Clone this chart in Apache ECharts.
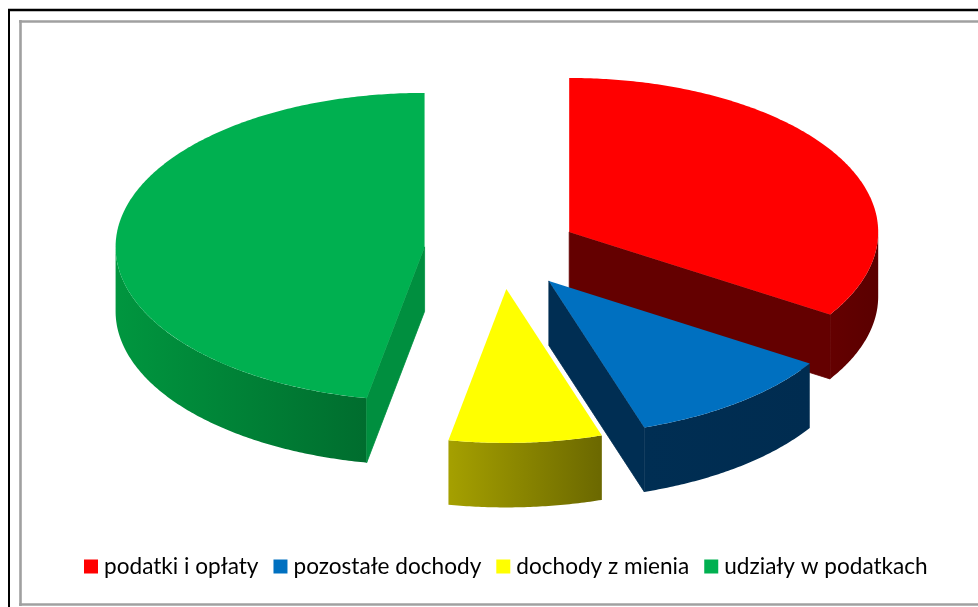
<!DOCTYPE html>
<html>
<head>
<meta charset="utf-8">
<style>html,body{margin:0;padding:0;background:#fff}#c{width:978px;height:607px}</style>
<script src="https://cdn.jsdelivr.net/npm/echarts@6/dist/echarts.min.js"></script>
</head>
<body>
<div id="c"></div>
<script>
// data
const categories = ['podatki i opłaty', 'pozostałe dochody', 'dochody z mienia', 'udziały w podatkach'];
const values = [34, 11, 8, 47];

// styles, in the same order as the categories
const topColors = ['#ff0000', '#0070c0', '#ffff00', '#00b050'];
const cutColors = ['#640000', '#002e53', '#666600', '#008f3f'];
const wallLeft = ['#640000', '#002e53', '#a5a000', '#00963f'];
const wallRight = ['#5a0000', '#002c50', '#6b6800', '#006d2e'];
const drawOrder = [3, 0, 2, 1];

// pie projection
const cx = 501.5, cy = 250.5, rx = 309, ry = 154, depth = 64.5, explode = 0.25;

const total = values.reduce((a, b) => a + b, 0);
const starts = [];
values.reduce((acc, v, i) => { starts[i] = acc; return acc + v; }, 0);

function renderWedge(params, api) {
  const i = api.value(0);
  const a0 = starts[i] / total * 2 * Math.PI;
  const a1 = a0 + api.value(1) / total * 2 * Math.PI;
  const mid = (a0 + a1) / 2;
  const ox = cx + Math.sin(mid) * rx * explode;
  const oy = cy - Math.cos(mid) * ry * explode;
  const pt = (a, dy) => [ox + Math.sin(a) * rx, oy - Math.cos(a) * ry + (dy || 0)];
  const arc = (from, to, dy) => {
    const n = Math.max(2, Math.ceil(Math.abs(to - from) / 0.01));
    const out = [];
    for (let k = 0; k <= n; k++) out.push(pt(from + (to - from) * k / n, dy));
    return out;
  };
  const children = [];
  const poly = (points, fill, seam) => children.push({
    type: 'polygon', shape: { points },
    style: seam ? { fill, stroke: fill, lineWidth: 0.8 } : { fill, stroke: null }
  });
  const apex = [ox, oy], apexB = [ox, oy + depth];
  // outer wall: only the front half of the rim
  const wa = Math.max(a0, Math.PI / 2), wb = Math.min(a1, Math.PI * 1.5);
  if (wb > wa) {
    const fill = new echarts.graphic.LinearGradient(0, 0, 1, 0,
      [{ offset: 0, color: wallLeft[i] }, { offset: 1, color: wallRight[i] }]);
    poly(arc(wa, wb, 0).concat(arc(wb, wa, depth)), fill);
  }
  // radial cut faces that look towards the viewer
  if (Math.sin(a0) < -1e-6) poly([apex, pt(a0), pt(a0, depth), apexB], cutColors[i], true);
  if (Math.sin(a1) > 1e-6) poly([apex, pt(a1), pt(a1, depth), apexB], cutColors[i], true);
  // top face
  poly([apex].concat(arc(a0, a1, 0)), topColors[i]);
  return { type: 'group', children };
}

const series = drawOrder.map((i, z) => ({
  type: 'custom',
  name: categories[i],
  coordinateSystem: 'none',
  z: 2 + z,
  silent: true,
  animation: false,
  itemStyle: { color: topColors[i] },
  encode: { value: 1 },
  data: [[i, values[i]]],
  renderItem: renderWedge
}));

const chart = echarts.init(document.getElementById('c'), null, { renderer: 'canvas' });
const line = (x1, y1, x2, y2, stroke, lineWidth) => ({
  type: 'line', silent: true, z: 1,
  shape: { x1, y1, x2, y2 }, style: { stroke, lineWidth }
});
chart.setOption({
  animation: false,
  backgroundColor: '#ffffff',
  graphic: [
    line(8, 10, 978, 10, '#000000', 2.5),
    line(9, 9, 9, 607, '#000000', 2),
    line(19, 21.5, 978, 21.5, '#a0a0a0', 2.6),
    line(20.5, 20, 20.5, 606, '#a0a0a0', 2.6),
    line(19, 604.5, 978, 604.5, '#a0a0a0', 2.6)
  ],
  legend: {
    show: true,
    data: categories,
    left: 84,
    top: 555,
    padding: 0,
    icon: 'rect',
    itemWidth: 14,
    itemHeight: 14,
    itemGap: 15,
    selectedMode: false,
    textStyle: { color: '#000000', fontFamily: 'Lato', fontSize: 22.6, padding: [0, 0, 0, 1] },
    formatter: n => n
  },
  series
});
</script>
</body>
</html>
